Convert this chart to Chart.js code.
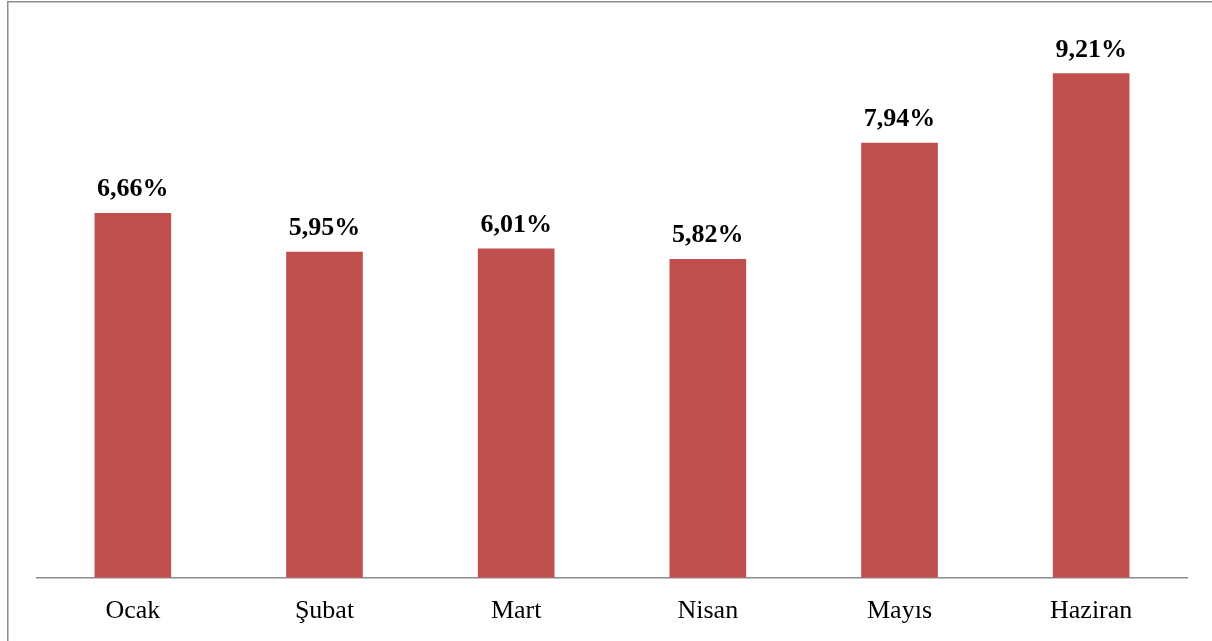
<!DOCTYPE html>
<html>
<head>
<meta charset="utf-8">
<script src="https://cdn.jsdelivr.net/npm/chart.js@4.4.1/dist/chart.umd.min.js"></script>
<style>
  html, body { margin: 0; padding: 0; background: #fff; }
  #wrap { width: 1212px; height: 641px; position: relative; }
</style>
</head>
<body>
<div id="wrap"><canvas id="c" width="1212" height="641"></canvas></div>
<script>
const categories = ['Ocak', 'Şubat', 'Mart', 'Nisan', 'Mayıs', 'Haziran'];
const values = [6.66, 5.95, 6.01, 5.82, 7.94, 9.21];
const yMin = 0;
const yMax = 10;

function fmt(v) { return v.toFixed(2).replace('.', ',') + '%'; }

const frame = {
  id: 'frame',
  afterDraw(chart) {
    const ctx = chart.ctx;
    ctx.save();
    ctx.fillStyle = '#8c8c8c';
    ctx.fillRect(7, 1, 1205, 1.5);
    ctx.fillRect(7, 1, 1.5, 640);
    ctx.restore();
  }
};

const valueLabels = {
  id: 'valueLabels',
  afterDatasetsDraw(chart) {
    const ctx = chart.ctx;
    const meta = chart.getDatasetMeta(0);
    ctx.save();
    ctx.font = 'bold 26px "Liberation Serif", "Times New Roman", serif';
    ctx.fillStyle = '#000';
    ctx.textAlign = 'center';
    ctx.textBaseline = 'alphabetic';
    meta.data.forEach((bar, i) => {
      ctx.fillText(fmt(values[i]), bar.x, bar.y - 16.5);
    });
    ctx.restore();
  }
};

new Chart(document.getElementById('c'), {
  type: 'bar',
  data: {
    labels: categories,
    datasets: [{
      data: values,
      backgroundColor: '#C0504D',
      borderWidth: 0,
      barPercentage: 0.4,
      categoryPercentage: 1.0
    }]
  },
  options: {
    responsive: false,
    animation: false,
    events: [],
    layout: { padding: { left: 37, right: 25, top: 30, bottom: -4 } },
    plugins: { legend: { display: false }, tooltip: { enabled: false } },
    scales: {
      x: {
        grid: { display: false, drawTicks: false },
        border: { display: true, color: '#8c8c8c', width: 1.6 },
        ticks: {
          padding: 18,
          color: '#000',
          font: { family: '"Liberation Serif", "Times New Roman", serif', size: 26 }
        }
      },
      y: {
        display: false,
        min: yMin,
        max: yMax
      }
    }
  },
  plugins: [frame, valueLabels]
});
</script>
</body>
</html>
